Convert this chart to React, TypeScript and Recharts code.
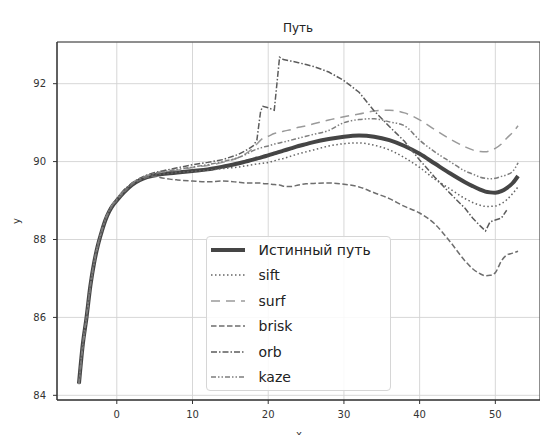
import React from 'react';
import { LineChart, Line, XAxis, YAxis, CartesianGrid, ReferenceArea } from 'recharts';

const xs = [-5, -4.5, -4, -3.5, -3, -2.5, -2, -1.5, -1, -0.5, 0, 1, 2, 3, 4, 5, 6, 7, 8, 10, 12, 14, 16, 17, 18, 18.5, 19, 19.3, 20, 20.8, 21.5, 22, 23, 24, 25, 26, 28, 30, 32, 34, 36, 38, 40, 42, 44, 46, 47, 48, 48.7, 49.3, 50, 50.8, 51.5, 52.3, 53];

const truePath = [84.3, 85.3, 86.0, 86.8, 87.4, 87.85, 88.2, 88.5, 88.72, 88.88, 89.0, 89.22, 89.4, 89.52, 89.6, 89.65, 89.68, 89.7, 89.72, 89.76, 89.8, 89.87, 89.95, 90.0, 90.05, 90.08, 90.1, 90.12, 90.16, 90.21, 90.25, 90.28, 90.34, 90.4, 90.45, 90.5, 90.58, 90.64, 90.67, 90.64, 90.55, 90.4, 90.2, 89.95, 89.7, 89.47, 89.37, 89.28, 89.23, 89.21, 89.2, 89.24, 89.32, 89.45, 89.63];

const sift = [84.32, 85.35, 86.05, 86.85, 87.45, 87.9, 88.25, 88.55, 88.75, 88.9, 89.02, 89.25, 89.42, 89.53, 89.6, 89.65, 89.68, 89.7, 89.72, 89.75, 89.78, 89.82, 89.86, 89.89, 89.92, 89.94, 89.95, 89.96, 89.98, 90.02, 90.06, 90.08, 90.14, 90.2, 90.25, 90.3, 90.4, 90.46, 90.48, 90.42, 90.3, 90.1, 89.85, 89.55, 89.3, 89.05, 88.95, 88.88, 88.85, 88.85, 88.86, 88.92, 89.02, 89.18, 89.35];

const surf = [84.28, 85.25, 85.98, 86.78, 87.38, 87.85, 88.22, 88.52, 88.75, 88.92, 89.05, 89.28, 89.45, 89.56, 89.64, 89.7, 89.73, 89.76, 89.78, 89.85, 89.9, 89.98, 90.1, 90.2, 90.35, 90.45, 90.55, 90.6, 90.65, 90.72, 90.75, 90.78, 90.82, 90.88, 90.92, 90.97, 91.07, 91.15, 91.22, 91.3, 91.32, 91.25, 91.07, 90.82, 90.58, 90.38, 90.3, 90.26, 90.25, 90.28, 90.34, 90.45, 90.6, 90.75, 90.92];

const brisk = [84.3, 85.28, 86.0, 86.8, 87.4, 87.85, 88.2, 88.5, 88.72, 88.88, 89.0, 89.22, 89.4, 89.52, 89.6, 89.62, 89.58, 89.55, 89.53, 89.5, 89.48, 89.5, 89.47, 89.45, 89.45, 89.45, 89.45, 89.44, 89.43, 89.41, 89.4, 89.37, 89.36, 89.4, 89.43, 89.44, 89.45, 89.42, 89.35, 89.2, 89.05, 88.85, 88.68, 88.4, 87.95, 87.45, 87.25, 87.12, 87.07, 87.08, 87.15, 87.45, 87.6, 87.65, 87.7];

const orb = [84.35, 85.32, 86.02, 86.82, 87.42, 87.88, 88.24, 88.54, 88.76, 88.92, 89.05, 89.28, 89.45, 89.57, 89.66, 89.72, 89.76, 89.8, 89.84, 89.92, 89.98, 90.05, 90.18, 90.28, 90.4, 90.55, 91.3, 91.42, 91.38, 91.32, 92.68, 92.62, 92.58, 92.54, 92.49, 92.44, 92.3, 92.08, 91.78, 91.3, 90.9, 90.52, 90.04, 89.6, 89.19, 88.8, 88.55, 88.35, 88.22, 88.45, 88.5, 88.55, 88.75, null, null];

const kaze = [84.3, 85.3, 86.02, 86.8, 87.42, 87.87, 88.22, 88.52, 88.74, 88.9, 89.03, 89.26, 89.44, 89.56, 89.64, 89.7, 89.74, 89.77, 89.8, 89.86, 89.92, 90.0, 90.1, 90.18, 90.28, 90.32, 90.35, 90.37, 90.4, 90.45, 90.48, 90.5, 90.55, 90.6, 90.65, 90.7, 90.8, 91.0, 91.08, 91.1, 91.02, 90.92, 90.55, 90.25, 90.0, 89.76, 89.68, 89.6, 89.57, 89.56, 89.57, 89.62, 89.66, 89.75, 89.97];

const xTicks = [0, 10, 20, 30, 40, 50];
const yTicks = [84, 86, 88, 90, 92];
const xDomain = [-7.9, 55.9];
const yDomain = [83.88, 93.07];
const seriesNames = ['Истинный путь', 'sift', 'surf', 'brisk', 'orb', 'kaze'];
const seriesKeys = ['truth', 'sift', 'surf', 'brisk', 'orb', 'kaze'];

const data = xs.map((x, i) => ({
  x,
  truth: truePath[i],
  sift: sift[i],
  surf: surf[i],
  brisk: brisk[i],
  orb: orb[i],
  kaze: kaze[i],
}));

const styles: Record<string, { color: string; width: number; dash?: string; type: 'monotone' | 'linear' }> = {
  truth: { color: '#454545', width: 4, type: 'monotone' },
  sift: { color: '#646464', width: 1.5, dash: '1.5 2.5', type: 'monotone' },
  surf: { color: '#9a9a9a', width: 1.5, dash: '9 6', type: 'monotone' },
  brisk: { color: '#6e6e6e', width: 1.5, dash: '5.5 2.5', type: 'monotone' },
  orb: { color: '#5c5c5c', width: 1.5, dash: '6 2 1.5 2', type: 'linear' },
  kaze: { color: '#7e7e7e', width: 1.5, dash: '5 2 1.5 2 1.5 2', type: 'monotone' },
};

const FONT = '"DejaVu Sans", sans-serif';

const LegendBox = () => (
  <div
    style={{
      position: 'absolute',
      left: 206,
      top: 236,
      width: 185,
      height: 155,
      boxSizing: 'border-box',
      border: '1px solid #d6d6d6',
      borderRadius: 4,
      background: 'rgba(255,255,255,0.85)',
      fontFamily: FONT,
      fontSize: 14,
      color: '#222',
    }}
  >
    {seriesKeys.map((k, i) => {
      const s = styles[k];
      return (
        <div key={k} style={{ height: 25.5, display: 'flex', alignItems: 'center' }}>
          <svg width={50} height={12} style={{ flex: 'none' }}>
            <line x1={4} x2={38} y1={6} y2={6} stroke={s.color} strokeWidth={s.width} strokeDasharray={s.dash} />
          </svg>
          <span style={{ marginLeft: 1.5, whiteSpace: 'nowrap' }}>{seriesNames[i]}</span>
        </div>
      );
    })}
  </div>
);

export default function App() {
  return (
    <div style={{ position: 'absolute', left: 0, top: 0, width: 540, height: 435, background: '#fff', overflow: 'hidden' }}>
      <LineChart width={540} height={435} data={data} margin={{ top: 42, right: 0, bottom: 0, left: 0 }}>
        <CartesianGrid stroke="#d2d2d2" strokeWidth={0.9} />
        <XAxis
          dataKey="x"
          type="number"
          domain={xDomain}
          ticks={xTicks}
          allowDataOverflow
          height={35}
          tickSize={4}
          tickMargin={7}
          stroke="#333"
          tick={{ fill: '#333', fontSize: 10, fontFamily: FONT }}
        />
        <YAxis
          type="number"
          domain={yDomain}
          ticks={yTicks}
          allowDataOverflow
          width={57}
          tickSize={4}
          tickMargin={7}
          stroke="#333"
          tick={{ fill: '#333', fontSize: 10, fontFamily: FONT }}
        />
        <ReferenceArea x1={xDomain[0]} x2={xDomain[1]} y1={yDomain[0]} y2={yDomain[1]} fill="none" stroke="#333" strokeWidth={1} />
        {seriesKeys.map((k, i) => (
          <Line
            key={k}
            dataKey={k}
            name={seriesNames[i]}
            type={styles[k].type}
            stroke={styles[k].color}
            strokeWidth={styles[k].width}
            strokeDasharray={styles[k].dash}
            dot={false}
            activeDot={false}
            isAnimationActive={false}
            connectNulls={false}
          />
        ))}
      </LineChart>
      <LegendBox />
      <div style={{ position: 'absolute', left: 0, top: 0, width: 540, height: 435, pointerEvents: 'none' }}>
        <svg width={540} height={435}>
          <text x={298} y={32} textAnchor="middle" fontFamily={FONT} fontSize={12} fill="#222">Путь</text>
          <text x={20} y={221} textAnchor="middle" fontFamily={FONT} fontSize={10} fill="#333" transform="rotate(-90 20 221)">y</text>
          <text x={299} y={438} textAnchor="middle" fontFamily={FONT} fontSize={10} fill="#333">x</text>
        </svg>
      </div>
    </div>
  );
}
